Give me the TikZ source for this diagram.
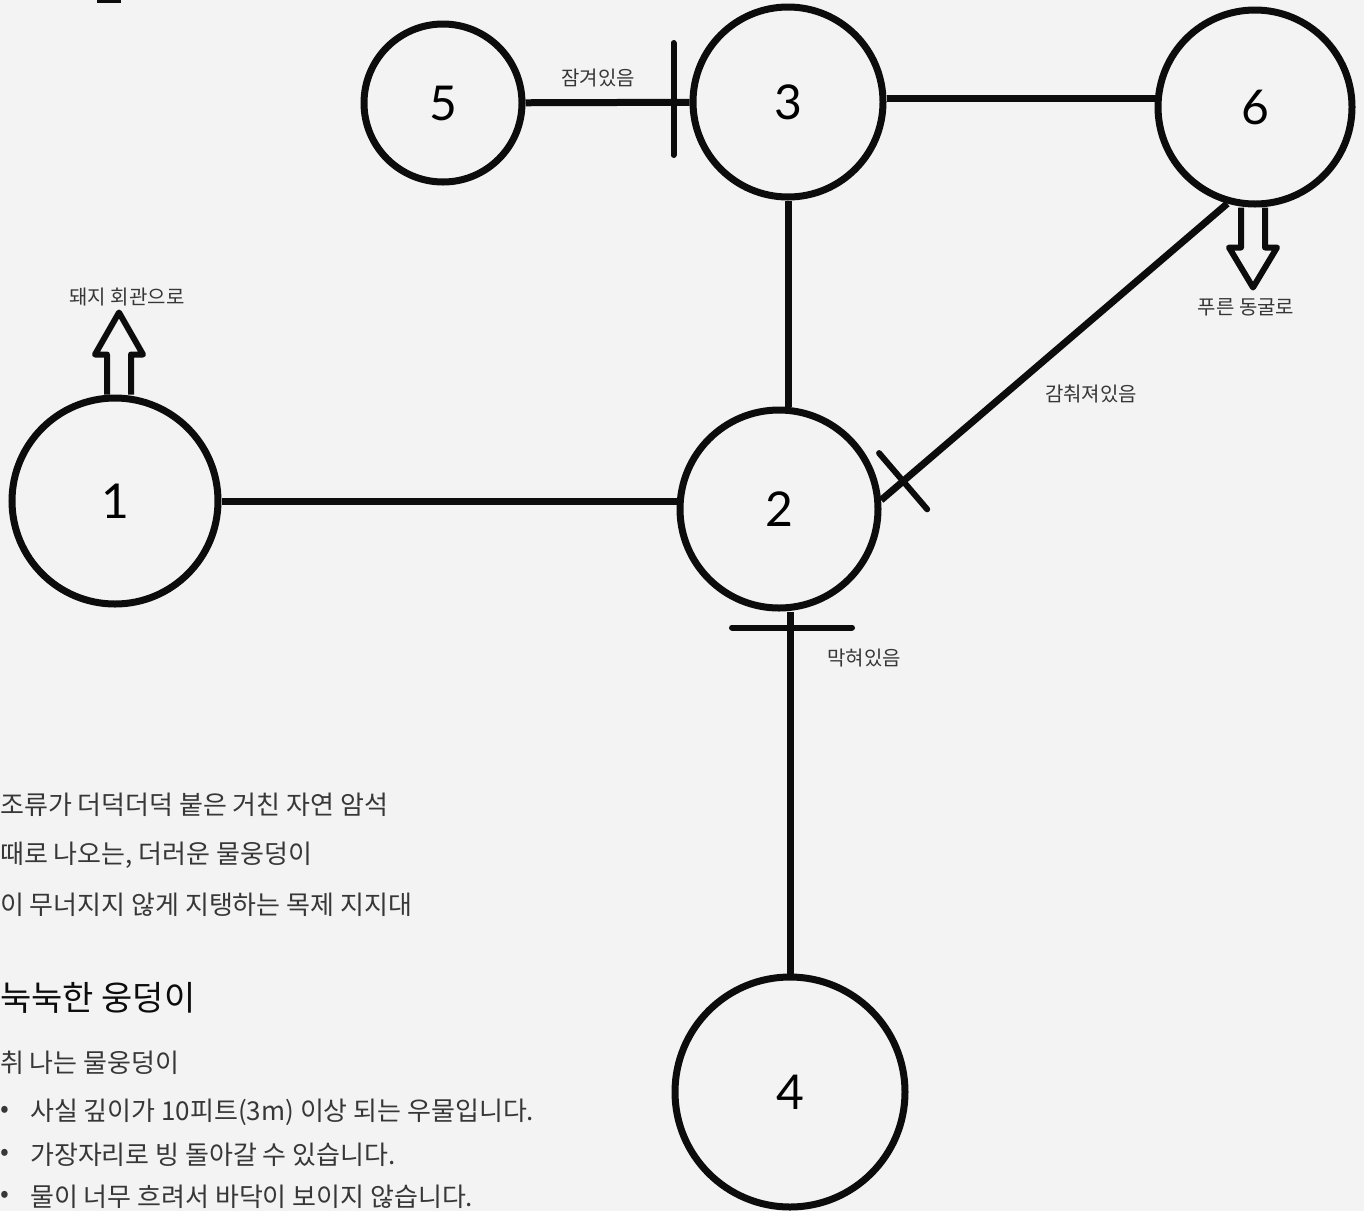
\documentclass[tikz,border=0pt]{standalone}
\usepackage{fontspec}
\usepackage{xcolor}
\newfontfamily\kofont{Noto Sans CJK KR}
\newfontfamily\numfont{Lato}
\usetikzlibrary{calc,positioning}

\begin{document}
\begin{tikzpicture}[x=1pt,y=-1pt,
  room/.style={circle,draw=ink,line width=7pt,inner sep=0pt,font=\numfont\fontsize{48}{48}\selectfont},
  passage/.style={draw=ink,line width=7pt},
  blocker/.style={draw=ink,line width=6pt,line cap=round},
  exitarrow/.style={draw=ink,line width=6pt,line join=round},
  tag/.style={font=\kofont\fontsize{20}{20}\selectfont,text=textgray,inner sep=0pt},
  note/.style={font=\kofont\fontsize{26}{26}\selectfont,text=textgray,inner sep=0pt,anchor=west}]
\definecolor{paper}{RGB}{243,243,243}
\definecolor{ink}{RGB}{12,12,12}
\definecolor{textgray}{RGB}{55,55,55}
\fill[paper] (0,0) rectangle (1364,1211);
\useasboundingbox (0,0) rectangle (1364,1211);
\clip (0,0) rectangle (1364,1211);
\fill[ink] (97,0) rectangle (121,3);
  \foreach \id/\x/\y/\d in {1/115/501/206,2/779/509/198,3/788/102/190,4/790/1092/230,5/443/103/158,6/1255/107/194}
  {  \node [room,minimum size=\d pt] (r\id) at (\x,\y) {\id};}
\draw[passage] (r1.east) -- (r1.east -| r2.west);
\draw[passage] (r5) -- (r3);
\draw[passage] ($(r3.east)+(0,-4)$) -- ($(r3.east -| r6.west)+(0,-4)$);
\draw[passage] (r3.south) -- (r3.south |- r2.north);
\draw[passage] (r4.north) -- (r4.north |- r2.south);
\draw[passage] (r6.254) -- (r2.5);
\coordinate (lock) at ($(r3.west)+(-16,-3)$);
\draw[blocker] ($(lock)+(0,-56)$) -- ($(lock)+(0,56)$);
\coordinate (block) at ($(r4.north |- r2.south)+(2,16)$);
\draw[blocker] ($(block)+(-60,0)$) -- ($(block)+(60,0)$);
\coordinate (hide) at ($(r2.5)!29pt!(r6.254)$);
\draw[blocker] ($(hide)!37pt!90:(r6.254)$) -- ($(hide)!37pt!-90:(r6.254)$);
\coordinate (up1) at ($(r1.north)+(4,0)$);
\draw[exitarrow] ($(up1)+(-12,0)$) -- ++(0,-40) -- ++(-12,0) -- ($(up1)+(0,-82)$) -- ($(up1)+(24,-40)$) -- ++(-12,0) -- ($(up1)+(12,0)$);
\coordinate (down6) at ($(r6.south)+(-2,0)$);
\draw[exitarrow] ($(down6)+(-12,0)$) -- ++(0,40) -- ++(-12,0) -- ($(down6)+(0,80)$) -- ($(down6)+(24,40)$) -- ++(-12,0) -- ($(down6)+(12,0)$);
\node[tag] (pigtag) at (127,297) {돼지 회관으로};
\node[tag] (locktag) at (598,78) {잠겨있음};
\node[tag] (hidetag) at (1091,394) {감춰져있음};
\node[tag] (cavetag) at (1246,307) {푸른 동굴로};
\node[tag] (blocktag) at (864,658) {막혀있음};
\node[note] (rock) at (0,805) {조류가 더덕더덕 붙은 거친 자연 암석};
\node[note] (mud) at (0,855) {때로 나오는, 더러운 물웅덩이};
\node[note] (beam) at (0,905) {이 무너지지 않게 지탱하는 목제 지지대};
\node[note,text=ink,font=\kofont\fontsize{34}{34}\selectfont] (title) at (0,998) {눅눅한 웅덩이};
\node[note] (smell) at (0,1063) {취 나는 물웅덩이};
  \foreach \n/\y/\t in {a/1112/{사실 깊이가 10피트(3m) 이상 되는 우물입니다.},b/1155/{가장자리로 빙 돌아갈 수 있습니다.},c/1197/{물이 너무 흐려서 바닥이 보이지 않습니다.}}
  {  \node[note] (dot\n) at (0,\y) {•};
     \node[note] (item\n) at (30,\y) {\t};}
\end{tikzpicture}
\end{document}
